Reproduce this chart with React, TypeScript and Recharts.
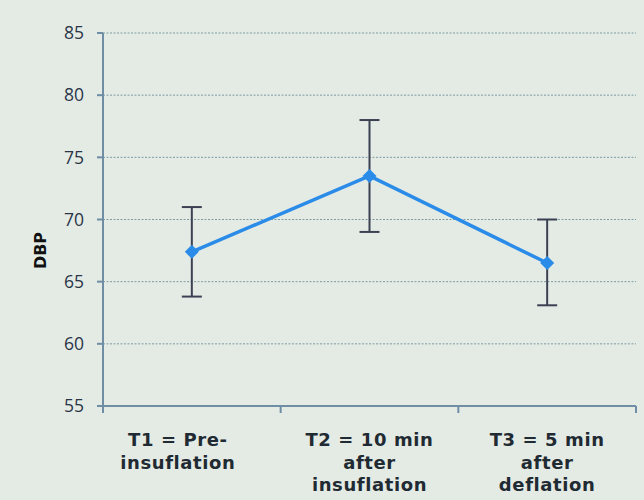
import {
  LineChart,
  Line,
  XAxis,
  YAxis,
  CartesianGrid,
  ErrorBar,
} from "recharts";

const times = ["T1", "T2", "T3"];
const tickLines = [
  ["T1 = Pre-", "insuflation"],
  ["T2 = 10 min", "after", "insuflation"],
  ["T3 = 5 min", "after", "deflation"],
];
const dbpMean = [67.4, 73.5, 66.5];
const dbpLow = [63.8, 69.0, 63.1];
const dbpHigh = [71.0, 78.0, 70.0];
const yTicks = [55, 60, 65, 70, 75, 80, 85];

const data = times.map((t, i) => ({
  time: t,
  dbp: dbpMean[i],
  err: [dbpMean[i] - dbpLow[i], dbpHigh[i] - dbpMean[i]],
}));

const Diamond = (props: any) => {
  const { cx, cy } = props;
  if (cx == null || cy == null) return null;
  const s = 7;
  return (
    <polygon
      points={`${cx},${cy - s} ${cx + s},${cy} ${cx},${cy + s} ${cx - s},${cy}`}
      fill="#2a8ce8"
    />
  );
};

const CatTick = (props: any) => {
  const { x, y, index, payload } = props;
  const half = payload?.offset ?? 0;
  const lines = tickLines[index] || [];
  const tx = index === 0 ? x - 14 : x;
  return (
    <g>
      <line x1={x - half} x2={x - half} y1={y - 8} y2={y - 1} stroke="#6f8ea6" strokeWidth={2} />
      {index === times.length - 1 && (
        <line x1={x + half} x2={x + half} y1={y - 8} y2={y - 1} stroke="#6f8ea6" strokeWidth={2} />
      )}
      <text
        x={tx}
        y={y + 32}
        textAnchor="middle"
        fontFamily="DejaVu Sans"
        fontWeight="bold"
        fontSize={18}
        letterSpacing={0.6}
        fill="#1f2a33"
      >
        {lines.map((l: string, k: number) => (
          <tspan key={k} x={tx} dy={k === 0 ? 0 : 22.5}>
            {l}
          </tspan>
        ))}
      </text>
    </g>
  );
};

const App = () => {
  return (
    <div
      style={{
        position: "absolute",
        left: 0,
        top: 0,
        width: 644,
        height: 500,
        background: "#e4ebe4",
      }}
    >
      <LineChart
        width={644}
        height={500}
        data={data}
        margin={{ top: 33, right: 8, left: 0, bottom: 0 }}
      >
        <CartesianGrid
          vertical={false}
          stroke="#7d9ba3"
          strokeDasharray="2 1.5"
        />
        <XAxis
          dataKey="time"
          scale="band"
          height={94}
          interval={0}
          axisLine={{ stroke: "#6f8ea6", strokeWidth: 2 }}
          tickLine={false}
          tick={<CatTick />}
        />
        <YAxis
          domain={[55, 85]}
          ticks={yTicks}
          width={103}
          tickSize={6}
          tickMargin={13}
          axisLine={{ stroke: "#6f8ea6", strokeWidth: 2 }}
          tickLine={{ stroke: "#6f8ea6", strokeWidth: 2 }}
          tick={{ fill: "#2a3548", fontSize: 17.5, fontFamily: "Open Sans" }}
          label={{
            content: (p: any) => {
              const vb = p.viewBox;
              const cx = vb.x + 40;
              const cy = vb.y + vb.height / 2 + 31;
              return (
                <text
                  x={cx}
                  y={cy}
                  transform={`rotate(-90, ${cx}, ${cy})`}
                  textAnchor="middle"
                  dominantBaseline="central"
                  fontFamily="DejaVu Sans"
                  fontWeight="bold"
                  fontSize={16}
                  fill="#111"
                >
                  DBP
                </text>
              );
            },
          }}
        />
        <Line
          dataKey="dbp"
          stroke="#2a8ce8"
          strokeWidth={3.5}
          dot={<Diamond />}
          activeDot={false}
          isAnimationActive={false}
        >
          <ErrorBar
            dataKey="err"
            width={10}
            stroke="#3b4152"
            strokeWidth={2}
          />
        </Line>
      </LineChart>
    </div>
  );
};

export default App;
